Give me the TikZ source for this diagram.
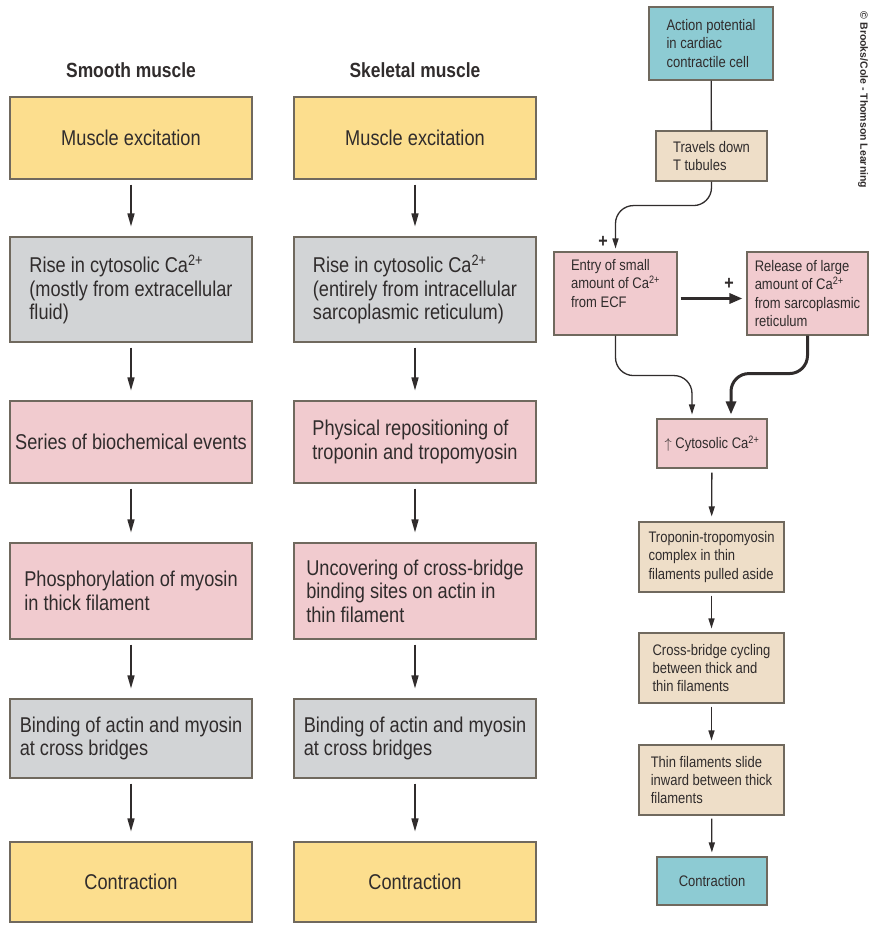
\documentclass[tikz,border=0pt]{standalone}
\usepackage{fontspec}
\setmainfont[FakeStretch=0.85]{Liberation Sans}
\newfontfamily\credfont{Liberation Sans}
\usetikzlibrary{arrows.meta}

\definecolor{yellowbox}{RGB}{252,222,142}
\definecolor{greybox}{RGB}{210,212,214}
\definecolor{pinkbox}{RGB}{241,203,207}
\definecolor{beigebox}{RGB}{238,222,200}
\definecolor{bluebox}{RGB}{141,203,211}
\definecolor{boxline}{RGB}{112,105,94}
\definecolor{txt}{RGB}{48,44,44}

\begin{document}
\begin{tikzpicture}
	[x=1pt,y=-1pt,
	box/.style={draw=boxline,line width=1.1pt,inner sep=0pt,align=left,text=txt},
	big/.style={box,minimum width=242pt,font=\fontsize{21.4}{23.5}\selectfont},
	small/.style={box,font=\fontsize{15.3}{18.3}\selectfont},
	head/.style={text=txt,font=\bfseries\fontsize{20.5}{22}\selectfont},
	arr/.style={draw=txt,line width=1.5pt,-{Triangle[length=13pt,width=7pt]},shorten <=5pt,shorten >=10pt},
	sarr/.style={draw=txt,line width=1.3pt,-{Triangle[length=10pt,width=6pt]},shorten <=4pt,shorten >=5pt},
	tarr/.style={draw=txt,line width=3pt,-{Triangle[length=13pt,width=10pt]}},
	plain/.style={draw=txt,line width=1.3pt}
	]

	\path[use as bounding box,fill=white] (0,0) rectangle (874,932);

	% smooth muscle
	\node [head] (t1) at (131,70) {Smooth muscle};
	\node [big,fill=yellowbox,minimum height=82pt] (s1) at (131,138) {Muscle excitation};
	\node [big,fill=greybox,minimum height=105pt] (s2) at (131,289.5) {Rise in cytosolic Ca\textsuperscript{2+}\\(mostly from extracellular\\fluid)};
	\node [big,fill=pinkbox,minimum height=82pt] (s3) at (131,442) {Series of biochemical events};
	\node [big,fill=pinkbox,minimum height=96pt] (s4) at (131,591) {Phosphorylation of myosin\\in thick filament};
	\node [big,fill=greybox,minimum height=79pt] (s5) at (131,738.5) {Binding of actin and myosin\\at cross bridges};
	\node [big,fill=yellowbox,minimum height=80pt] (s6) at (131,882) {Contraction};

	% skeletal muscle
	\node [head] (t2) at (415,70) {Skeletal muscle};
	\node [big,fill=yellowbox,minimum height=82pt] (k1) at (415,138) {Muscle excitation};
	\node [big,fill=greybox,minimum height=105pt] (k2) at (415,289.5) {Rise in cytosolic Ca\textsuperscript{2+}\\(entirely from intracellular\\sarcoplasmic reticulum)};
	\node [big,fill=pinkbox,minimum height=82pt] (k3) at (415,442) {Physical repositioning of\\troponin and tropomyosin};
	\node [big,fill=pinkbox,minimum height=96pt] (k4) at (415,591) {Uncovering of cross-bridge\\binding sites on actin in\\thin filament};
	\node [big,fill=greybox,minimum height=79pt] (k5) at (415,738.5) {Binding of actin and myosin\\at cross bridges};
	\node [big,fill=yellowbox,minimum height=80pt] (k6) at (415,882) {Contraction};

	% cardiac muscle
	\node [small,fill=bluebox,minimum width=124pt,minimum height=73pt] (c1) at (711,43.5) {Action potential\\in cardiac\\contractile cell};
	\node [small,fill=beigebox,minimum width=111pt,minimum height=50pt] (c2) at (711.5,156) {Travels down\\T tubules};
	\node [small,fill=pinkbox,minimum width=123pt,minimum height=83pt] (c3) at (615.5,293.5) {Entry of small\\amount of Ca\textsuperscript{2+}\\from ECF\\[2pt]};
	\node [small,fill=pinkbox,minimum width=121pt,minimum height=83pt] (c4) at (807.5,293.5) {Release of large\\amount of Ca\textsuperscript{2+}\\from sarcoplasmic\\reticulum};
	\node [small,fill=pinkbox,minimum width=110pt,minimum height=49pt] (c5) at (712,443.5) {$\uparrow$ Cytosolic Ca\textsuperscript{2+}};
	\node [small,fill=beigebox,minimum width=145pt,minimum height=70pt] (c6) at (711.5,557) {Troponin-tropomyosin\\complex in thin\\filaments pulled aside};
	\node [small,fill=beigebox,minimum width=145pt,minimum height=70pt] (c7) at (711.5,668) {Cross-bridge cycling\\between thick and\\thin filaments};
	\node [small,fill=beigebox,minimum width=145pt,minimum height=70pt] (c8) at (711.5,780) {Thin filaments slide\\inward between thick\\filaments};
	\node [small,fill=bluebox,minimum width=110pt,minimum height=48pt] (c9) at (712,881) {Contraction};

	\node [text=txt,font=\bfseries\fontsize{19}{19}\selectfont] (p1) at (603,242) {+};
	\node [text=txt,font=\bfseries\fontsize{19}{19}\selectfont] (p2) at (729,284) {+};

	\node [rotate=-90,text=txt,font=\credfont\bfseries\fontsize{10.5}{12}\selectfont] (cr) at (863,100) {© Brooks/Cole - Thomson Learning};

	\path[]
	(s1) edge[arr] (s2)
	(s2) edge[arr] (s3)
	(s3) edge[arr] (s4)
	(s4) edge[arr] (s5)
	(s5) edge[arr] (s6)
	(k1) edge[arr] (k2)
	(k2) edge[arr] (k3)
	(k3) edge[arr] (k4)
	(k4) edge[arr] (k5)
	(k5) edge[arr] (k6)
	(c1) edge[plain] (c2)
	(c5) edge[sarr] (c6)
	(c6) edge[sarr,shorten <=3pt,shorten >=4pt] (c7)
	(c7) edge[sarr,shorten <=3pt,shorten >=4pt] (c8)
	(c8) edge[sarr,shorten <=3pt,shorten >=4pt] (c9)
	;

	\draw[sarr,shorten <=0pt,shorten >=3pt,rounded corners=18pt] (c2.south) -- ++(0,24) -| (c3.north);
	\draw[tarr,shorten <=3pt,shorten >=4pt] ([yshift=-5pt]c3.east) -- ([yshift=-5pt]c4.west);
	\draw[sarr,shorten <=0pt,shorten >=4pt,rounded corners=18pt] (c3.south) -- ++(0,40) -| ([xshift=-20pt]c5.north);
	\draw[tarr,shorten >=4pt,rounded corners=18pt] (c4.south) -- ++(0,38) -| ([xshift=19pt]c5.north);

\end{tikzpicture}
\end{document}
